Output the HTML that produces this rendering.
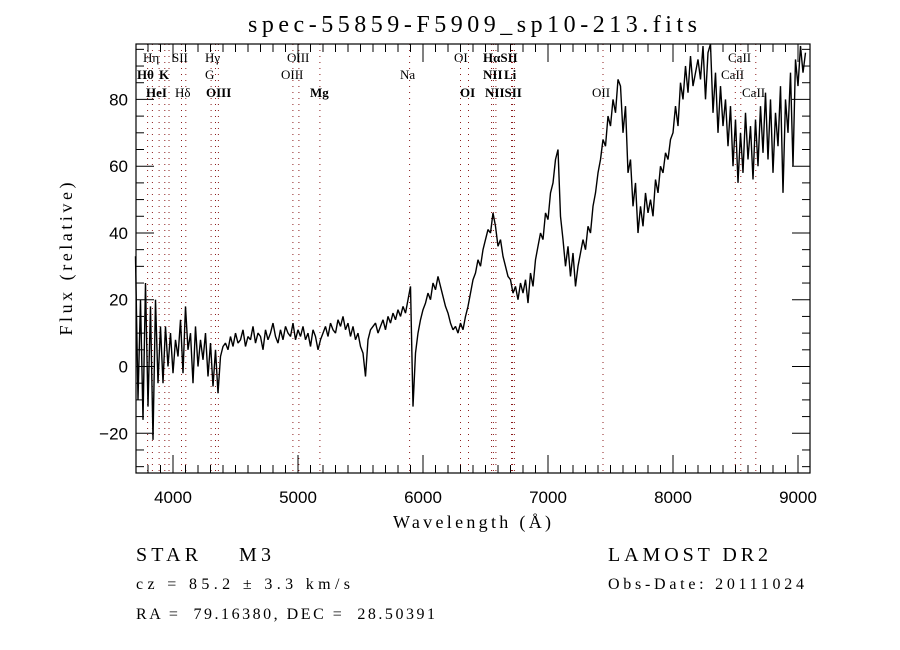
<!DOCTYPE html>
<html><head><meta charset="utf-8"><style>
body{margin:0;background:#fff}
svg{display:block}
text{font-family:"Liberation Serif",serif;fill:#000;white-space:pre}
.t{font-family:"Liberation Sans",sans-serif;font-size:17px}
.lab{font-size:13px}
.b{font-weight:bold}
</style></head><body>
<svg id="c" width="900" height="650" viewBox="0 0 900 650">
<rect width="900" height="650" fill="#fff"/>
<text x="248" y="32" font-size="24" textLength="449" lengthAdjust="spacing">spec-55859-F5909_sp10-213.fits</text>
<g id="lines"></g>
<g id="ticks"></g>
<path id="spec" fill="none" stroke="#000" stroke-width="1.4" stroke-linejoin="bevel"/>
<rect x="136" y="44" width="674" height="429" fill="none" stroke="#000" stroke-width="1.2"/>
<g class="lab">
<text x="143" y="62">Hη</text><text x="172" y="62">SII</text><text x="205" y="62">Hγ</text><text x="287" y="62">OIII</text><text x="454" y="62">OI</text><text x="483" y="62" class="b">HαSII</text><text x="728" y="62">CaII</text>
<text x="137" y="79" class="b">Hθ</text><text x="159" y="79" class="b">K</text><text x="205" y="79">G</text><text x="281" y="79">OIII</text><text x="400" y="79">Na</text><text x="483" y="79" class="b">NII</text><text x="504" y="79" class="b">Li</text><text x="721" y="79">CaII</text>
<text x="146" y="97" class="b">HeI</text><text x="175" y="97">Hδ</text><text x="206" y="97" class="b">OIII</text><text x="310" y="97" class="b">Mg</text><text x="460" y="97" class="b">OI</text><text x="485" y="97" class="b">NIISII</text><text x="592" y="97">OII</text><text x="742" y="97">CaII</text>
</g>
<text x="393" y="528" font-size="18" textLength="158" lengthAdjust="spacing">Wavelength (Å)</text>
<text x="0" y="0" font-size="18" text-anchor="middle" textLength="153" lengthAdjust="spacing" transform="translate(72,259) rotate(-90)">Flux (relative)</text>
<text x="136" y="561" font-size="20" textLength="135" lengthAdjust="spacing">STAR    M3</text>
<text x="608" y="561" font-size="20" textLength="160" lengthAdjust="spacing">LAMOST DR2</text>
<text x="136" y="589" font-size="16" textLength="214" lengthAdjust="spacing">cz = 85.2 ± 3.3 km/s</text>
<text x="608" y="589" font-size="16" textLength="196" lengthAdjust="spacing">Obs-Date: 20111024</text>
<text x="136" y="619" font-size="16" textLength="299" lengthAdjust="spacing">RA =  79.16380, DEC =  28.50391</text>
</svg>
<script>
const startWavelength=3700;
const stepWavelength=20;
const fluxValues=[33,-10,20,-16,25,-12,18,-22,20,-5,12,
-5,12,0,10,-2,8,3,14,-2,18,5,10,-5,12,0,8,2,10,-3,7,-6,5,-8,3,6,
7,5,9,6,10,7,8,11,6,9,8,12,7,10,9,5,11,8,10,13,9,7,11,8,12,10,9,13,8,11,
9,12,8,10,6,11,9,5,8,10,12,9,13,11,10,14,12,15,11,13,9,12,8,10,6,4,-3,8,11,12,
13,10,12,14,11,15,13,16,14,17,15,18,16,20,24,-12,4,10,14,17,19,22,20,25,23,27,24,21,18,16,
13,11,12,10,13,11,15,18,22,26,28,32,30,35,38,41,40,46,42,36,38,33,30,27,26,22,24,20,25,22,
26,19,28,24,32,36,40,38,46,44,52,55,62,65,45,38,30,36,27,34,24,30,34,38,35,42,40,48,52,58,
62,68,66,75,72,80,76,86,84,70,78,58,62,48,55,40,48,42,52,46,50,45,56,52,60,58,64,62,68,70,
78,72,85,80,90,82,93,84,88,92,86,96,80,94,97,76,88,70,84,72,80,66,78,60,74,55,70,58,76,62,
72,56,74,60,78,64,82,62,80,58,76,66,84,52,80,70,88,60,92,84,96,88,94];
const xTickValues=[4000,5000,6000,7000,8000,9000];
const yTickValues=[-20,0,20,40,60,80];
const markerWavelengths=[3797,3835,3889,3934,3968,4068,4102,4305,4340,4363,4959,5007,5175,5893,6300,6364,6548,6563,6583,6708,6716,6731,7440,8498,8542,8662];
const X0=136,X1=810,Y0=473,Y1=44;
const xMin=3704,xMax=9096,yMin=-31.9,yMax=96.6;
function xs(v){return X0+(v-xMin)/(xMax-xMin)*(X1-X0);}
function ys(v){return Y0-(v-yMin)/(yMax-yMin)*(Y0-Y1);}
const NS='http://www.w3.org/2000/svg';
let d='';
fluxValues.forEach((f,i)=>{const w=startWavelength+i*stepWavelength;const y=Math.max(Y1,Math.min(Y0,ys(f)));d+=(i?'L':'M')+xs(w).toFixed(1)+','+y.toFixed(1);});
document.getElementById('spec').setAttribute('d',d);
const lg=document.getElementById('lines');
markerWavelengths.forEach(w=>{const l=document.createElementNS(NS,'line');


const x=xs(w).toFixed(1);l.setAttribute('x1',x);l.setAttribute('x2',x);l.setAttribute('y1',Y1);l.setAttribute('y2',Y0);
l.setAttribute('stroke','#8b1a1a');l.setAttribute('stroke-width','1');l.setAttribute('stroke-dasharray','1,5');lg.appendChild(l);});
const tg=document.getElementById('ticks');
function ln(x1,y1,x2,y2){const l=document.createElementNS(NS,'line');


l.setAttribute('x1',x1);l.setAttribute('y1',y1);l.setAttribute('x2',x2);l.setAttribute('y2',y2);l.setAttribute('stroke','#000');tg.appendChild(l);}
for(let w=3800;w<=9000;w+=100){const x=xs(w);const L=(w%1000===0)?18:8;ln(x,Y0,x,Y0-L);ln(x,Y1,x,Y1+L);}
for(let v=-30;v<=95;v+=5){const y=ys(v);const L=(v%20===0)?18:8;ln(X0,y,X0+L,y);ln(X1,y,X1-L,y);}
xTickValues.forEach(v=>{const t=document.createElementNS(NS,'text');


t.setAttribute('x',xs(v));t.setAttribute('y',503);t.setAttribute('text-anchor','middle');t.setAttribute('class','t');t.textContent=v;tg.appendChild(t);});
yTickValues.forEach(v=>{const t=document.createElementNS(NS,'text');


t.setAttribute('x',128);t.setAttribute('y',ys(v)+6);t.setAttribute('text-anchor','end');t.setAttribute('class','t');t.textContent=v<0?'\u2212'+(-v):v;tg.appendChild(t);});
</script>
</body></html>
